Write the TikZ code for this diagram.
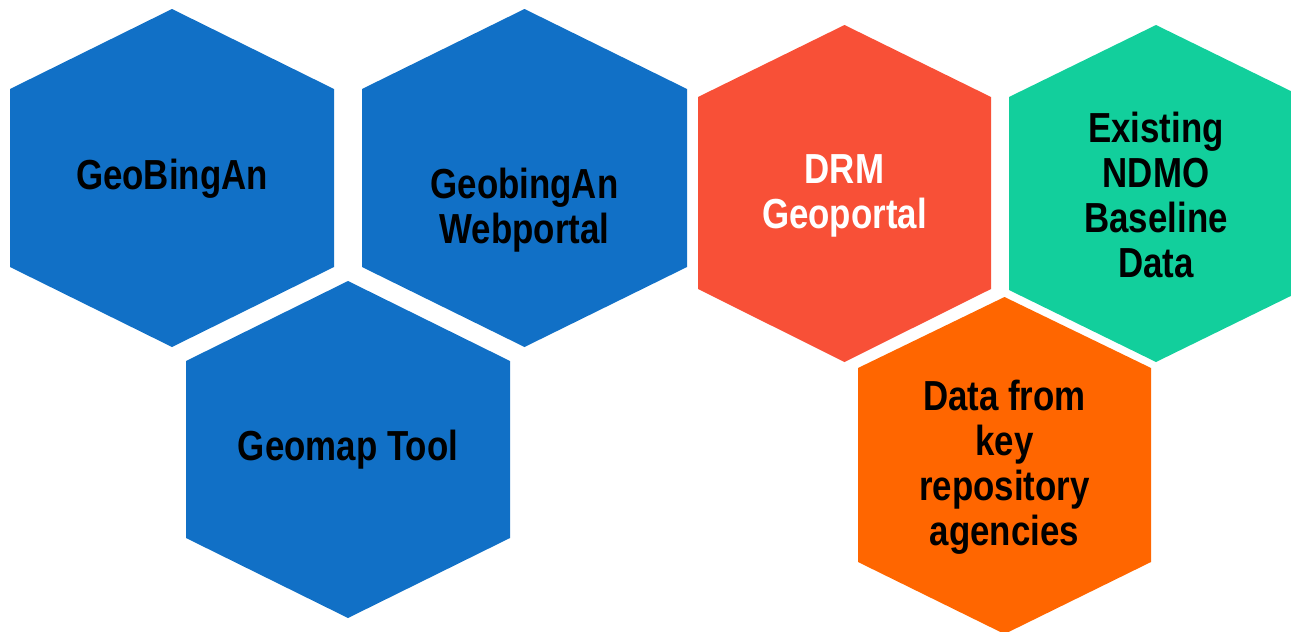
\documentclass[tikz,border=0pt]{standalone}
\usepackage{fontspec}
\setmainfont{Liberation Sans}[FakeStretch=0.83]
\usepackage{tikz, xcolor}

\definecolor{hexblue}{HTML}{1170C6}
\definecolor{hexred}{HTML}{F85037}
\definecolor{hexteal}{HTML}{12CF9C}
\definecolor{hexorange}{HTML}{FF6600}

\tikzset{
    hextext/.style={align=center, font=\fontsize{42}{45}\selectfont\bfseries, inner sep=0pt},
}

\begin{document}
\begin{tikzpicture}[x=1pt, y=-1pt]
    \useasboundingbox (0,0) rectangle (1291,632) ;
    \clip (0,0) rectangle (1291,632) ;

    % blue group
    \fill[hexblue] (172,9) -- (334,89) -- (334,267) -- (172,347) -- (10,267) -- (10,89) -- cycle ;
    \fill[hexblue] (524.5,9) -- (687,89) -- (687,267) -- (524.5,347) -- (362,267) -- (362,89) -- cycle ;
    \fill[hexblue] (348,281) -- (510,361) -- (510,538) -- (348,618) -- (186,538) -- (186,361) -- cycle ;

    % data group
    \fill[hexred] (844.5,25) -- (991,97) -- (991,289) -- (844.5,362) -- (698,289) -- (698,97) -- cycle ;
    \fill[hexteal] (1156,25) -- (1303,97) -- (1303,290) -- (1156,362) -- (1009,290) -- (1009,97) -- cycle ;
    \fill[hexorange] (1004.5,297) -- (1151,368) -- (1151,562) -- (1004.5,634) -- (858,562) -- (858,368) -- cycle ;

    \node[hextext] (geobingan) at (172,179) {GeoBingAn} ;
    \node[hextext] (webportal) at (524.5,210) {GeobingAn\\Webportal} ;
    \node[hextext] (geomap) at (348,450) {Geomap Tool} ;
    \node[hextext, text=white] (drm) at (844.5,196) {DRM\\Geoportal} ;
    \node[hextext] (ndmo) at (1156,195) {Existing\\NDMO\\Baseline\\Data} ;
    \node[hextext] (agencies) at (1004.5,467) {Data from\\key\\repository\\agencies} ;

\end{tikzpicture}
\end{document}
